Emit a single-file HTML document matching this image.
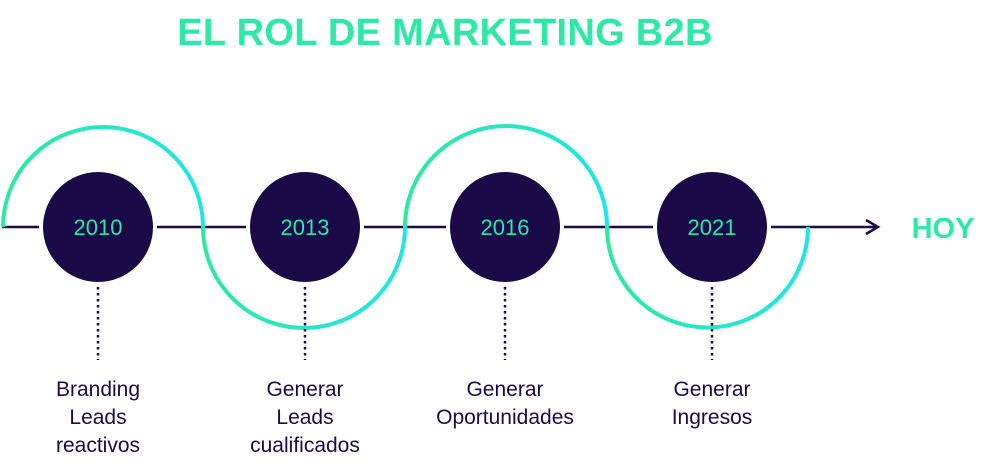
<!DOCTYPE html>
<html><head><style>
body{margin:0;background:#fff;width:1000px;height:474px;overflow:hidden;position:relative;font-family:"Liberation Sans",sans-serif}
.t{position:absolute;left:0;width:890px;top:12px;text-align:center;font-weight:bold;font-size:38px;color:#2ee8a6;letter-spacing:0.3px}
.l{position:absolute;width:200px;text-align:center;font-size:21px;line-height:28px;color:#1a0a48}
</style></head><body>
<div class="t">EL ROL DE MARKETING B2B</div>
<svg width="1000" height="474" style="position:absolute;left:0;top:0">
<defs>
<linearGradient id="g" x1="0" x2="1"><stop offset="0" stop-color="#2ee8a0"/><stop offset="1" stop-color="#1ee6e4"/></linearGradient>
</defs>
<line x1="2" y1="227" x2="877" y2="227" stroke="#1a0a48" stroke-width="2.5"/>
<polyline points="866,220 878,227 866,234" fill="none" stroke="#1a0a48" stroke-width="2.5"/>
<path d="M3 227 A100 100 0 0 1 203 227" fill="none" stroke="url(#g)" stroke-width="4"/>
<path d="M203 227 A101 101 0 0 0 405 227" fill="none" stroke="url(#g)" stroke-width="4"/>
<path d="M405 227 A101 101 0 0 1 607 227" fill="none" stroke="url(#g)" stroke-width="4"/>
<path d="M607 227 A100.5 100.5 0 0 0 808 227" fill="none" stroke="url(#g)" stroke-width="4"/>
<g fill="#1a0a48" stroke="#fff" stroke-width="4">
<circle cx="98" cy="227" r="57"/><circle cx="305" cy="227" r="57"/><circle cx="505" cy="227" r="57"/><circle cx="712" cy="227" r="57"/>
</g>
<g stroke="#1a0a48" stroke-width="2.5" stroke-dasharray="2.5 3.5">
<line x1="98" y1="287" x2="98" y2="360"/><line x1="305" y1="287" x2="305" y2="360"/><line x1="505" y1="287" x2="505" y2="360"/><line x1="712" y1="287" x2="712" y2="360"/>
</g>
<g fill="#2ee8a6" font-family="Liberation Sans" font-size="22" text-anchor="middle">
<text x="98" y="235">2010</text><text x="305" y="235">2013</text><text x="505" y="235">2016</text><text x="712" y="235">2021</text>
</g>
<text x="943" y="238" fill="#2ee8a6" font-family="Liberation Sans" font-weight="bold" font-size="29" text-anchor="middle">HOY</text>
</svg>
<div class="l" style="left:-2px;top:376px">Branding<br>Leads<br>reactivos</div>
<div class="l" style="left:205px;top:376px">Generar<br>Leads<br>cualificados</div>
<div class="l" style="left:405px;top:376px">Generar<br>Oportunidades</div>
<div class="l" style="left:612px;top:376px">Generar<br>Ingresos</div>
</body></html>
